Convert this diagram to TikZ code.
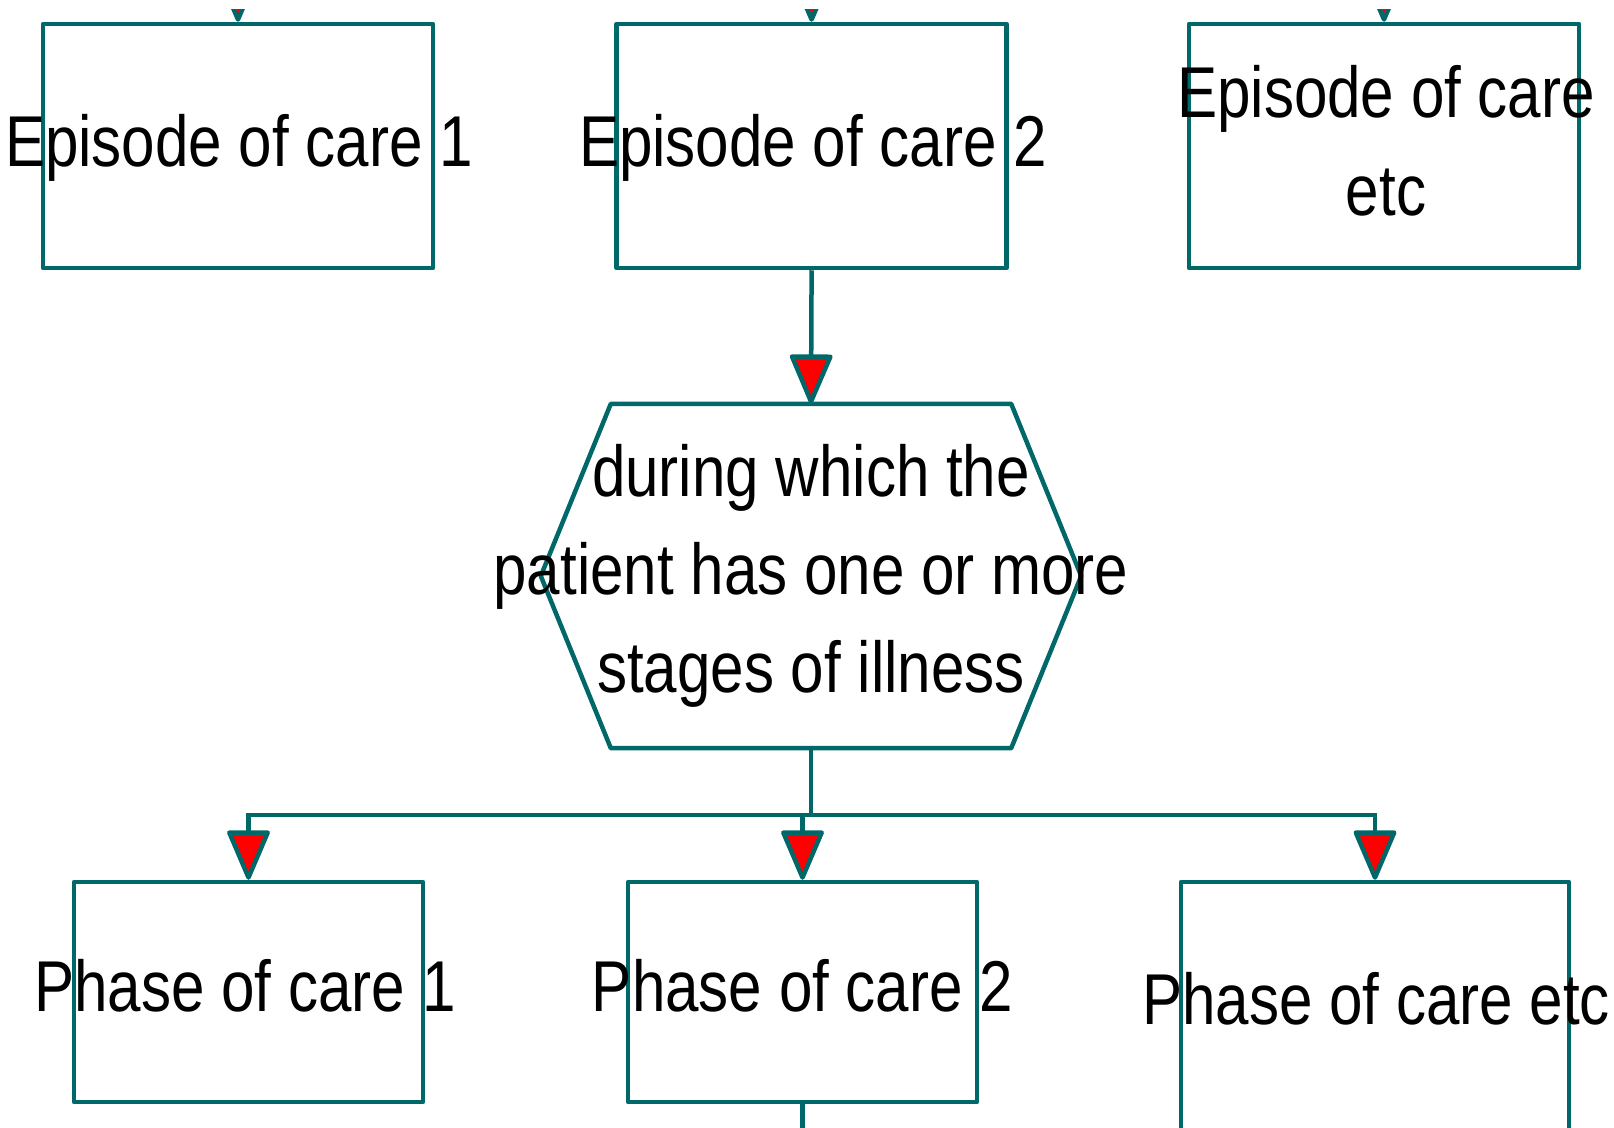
\documentclass[tikz,border=0pt]{standalone}
\usepackage{fontspec}
\setmainfont{Liberation Sans}[FakeStretch=0.835]
\usetikzlibrary{arrows.meta}
\definecolor{tealline}{RGB}{0,104,104}
\newcommand\mlines[1]{\begin{tabular}[t]{@{}c@{}}#1\end{tabular}}
\begin{document}
\begin{tikzpicture}[x=1pt,y=-1pt,
  box/.style={draw=tealline, line width=4.5pt, line join=round, minimum width=390pt, minimum height=244pt, inner sep=0pt},
  pbox/.style={box, minimum width=349pt, minimum height=220pt},
  conn/.style={draw=tealline, line width=4.5pt},
  arr/.style={conn, -{Triangle[length=53pt,width=44pt,fill=red,round]}},
  lbl/.style={font=\fontsize{72pt}{98pt}\selectfont, inner sep=0pt, anchor=base, text=black}]
\useasboundingbox (0,0) rectangle (1614,1127);
\clip (0,9) rectangle (1614,1127);
% episode boxes
\node[box] (e1) at (238,146) {};
\node[box] (e2) at (811.6,146) {};
\node[box] (e3) at (1384,146) {};
% hexagon
\node[minimum width=540pt, minimum height=344pt, inner sep=0pt] (hex) at (811,576) {};
\draw[conn, line join=round] (hex.west) -- ([xshift=70pt]hex.north west) -- ([xshift=-70pt]hex.north east) -- (hex.east) -- ([xshift=-70pt]hex.south east) -- ([xshift=70pt]hex.south west) -- cycle;
% phase boxes
\node[pbox] (p1) at (248.5,992) {};
\node[pbox] (p2) at (802.5,992) {};
\node[box, minimum width=388pt, minimum height=300pt] (p3) at (1375,1032) {};
% texts
\node[lbl] (e1t) at (239,166) {Episode of care 1};
\node[lbl] (e2t) at (813,166) {Episode of care 2};
\node[lbl] (e3t) at (1386,117) {\mlines{Episode of care\\etc}};
\node[lbl] (hext) at (811,496) {\mlines{during which the\\patient has one or more\\stages of illness}};
\node[lbl] (p1t) at (245,1011) {Phase of care 1};
\node[lbl] (p2t) at (802.5,1011) {Phase of care 2};
\node[lbl] (p3t) at (1376,1024) {Phase of care etc};
% connectors
\coordinate (t1) at (238,-40);
\coordinate (t2) at (811.6,-40);
\coordinate (t3) at (1384,-40);
\draw[arr] (t1) -- (e1.north);
\draw[arr] (t2) -- (e2.north);
\draw[arr] (t3) -- (e3.north);
\draw[arr] (e2.south) -- (hex.north);
\draw[conn] (hex.south) -- ++(0,67) coordinate (j);
\draw[arr] (j) -| (p1.north);
\draw[arr] (j) -| (p2.north);
\draw[arr] (j) -| (p3.north);
\coordinate (b2) at (802.5,1170);
\draw[conn] (p2.south) -- (b2);
\end{tikzpicture}
\end{document}
